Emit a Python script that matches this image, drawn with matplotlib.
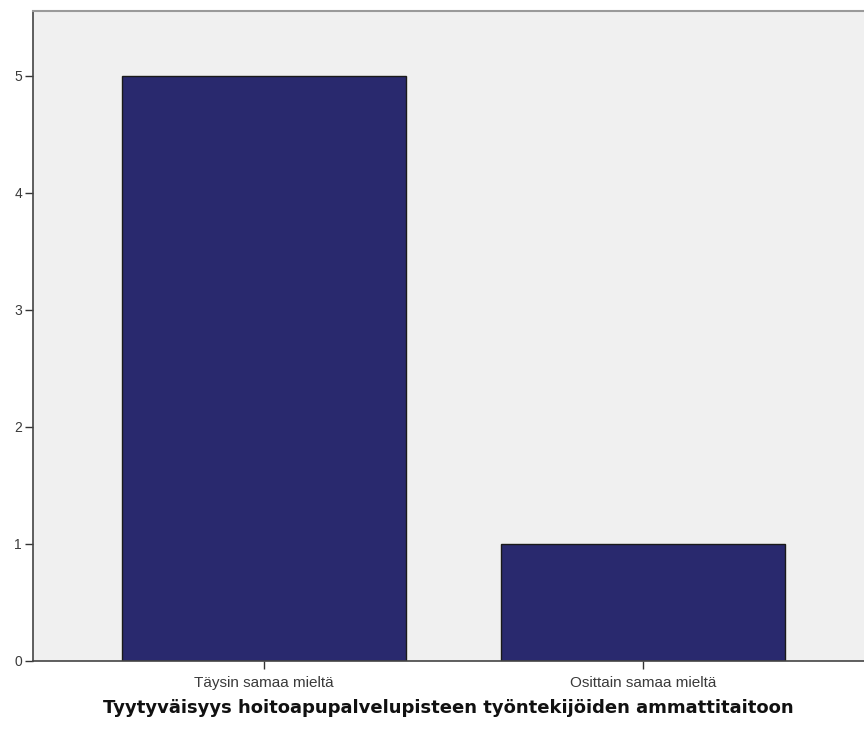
import matplotlib.pyplot as plt

categories = ["Täysin samaa mieltä", "Osittain samaa mieltä"]
counts = [5, 1]
yticks = [0, 1, 2, 3, 4, 5]
xlabel = "Tyytyväisyys hoitoapupalvelupisteen työntekijöiden ammattitaitoon"

fig = plt.figure(figsize=(8.64, 7.31), dpi=100)
ax = fig.add_axes([0.0382, 0.0958, 0.9618, 0.8885])
ax.set_facecolor("#f0f0f0")

x = list(range(len(categories)))
ax.bar(x, counts, width=0.75, color="#29296e", edgecolor="#1a1a1a", linewidth=1.0, zorder=2)

ax.set_xlim(-0.61, 1.583)
ax.set_ylim(0, 5.55)
ax.set_yticks(yticks)
ax.set_xticks(x)
ax.set_xticklabels(categories, fontsize=11, color="#3a3a3a", family="Liberation Sans")
ax.set_yticklabels([str(v) for v in yticks], fontsize=10, color="#3a3a3a", family="Liberation Sans")
ax.tick_params(axis="both", direction="out", length=6, width=1, color="#333333")
ax.tick_params(axis="x", pad=5)
ax.tick_params(axis="y", pad=2)

ax.spines["right"].set_visible(False)
ax.spines["top"].set_color("#9a9a9a")
ax.spines["top"].set_linewidth(1.5)
for s in ("left", "bottom"):
    ax.spines[s].set_color("#444444")
    ax.spines[s].set_linewidth(1.2)

ax.set_xlabel(xlabel, fontsize=13, fontweight="bold", color="#111111", labelpad=6, family="DejaVu Sans")

fig.savefig("out.png", dpi=100)
